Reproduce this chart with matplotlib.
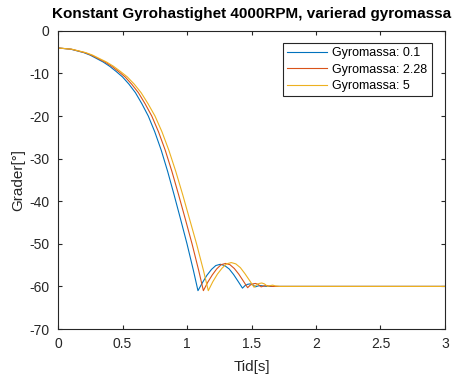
import matplotlib
matplotlib.use("Agg")
import matplotlib.pyplot as plt

plt.rcParams['font.family'] = ['Liberation Sans', 'DejaVu Sans']

title = "Konstant Gyrohastighet 4000RPM, varierad gyromassa"
xlabel = "Tid[s]"
ylabel = "Grader[°]"
labels = ["Gyromassa: 0.1", "Gyromassa: 2.28", "Gyromassa: 5"]
colors = ["#0072BD", "#D95319", "#EDB120"]

xticks = [0, 0.5, 1, 1.5, 2, 2.5, 3]
xticklabels = ["0", "0.5", "1", "1.5", "2", "2.5", "3"]
yticks = [0, -10, -20, -30, -40, -50, -60, -70]
yticklabels = ["0", "-10", "-20", "-30", "-40", "-50", "-60", "-70"]

t_blue = [0, 0.1, 0.2, 0.25, 0.3, 0.35, 0.4, 0.45, 0.5, 0.55, 0.6, 0.65, 0.7, 0.75, 0.8, 0.85, 0.9, 0.95, 1.0, 1.05, 1.085,
          1.12, 1.154, 1.19, 1.223, 1.258, 1.292, 1.327, 1.361, 1.396, 1.43,
          1.45, 1.47, 1.49, 1.51, 1.53, 1.55, 1.57, 1.59, 1.62, 3.0]
y_blue = [-4, -4.3, -5.1, -5.7, -6.5, -7.3, -8.3, -9.5, -10.8, -12.5, -14.5, -17.1, -20, -23.7, -28, -33, -38.5, -44.2, -50, -56.3, -61,
          -59.1, -57.4, -56.0, -55.1, -54.8, -55.1, -55.9, -57.2, -58.8, -60.4,
          -59.8, -59.5, -59.4, -59.6, -60.1, -59.9, -59.8, -59.9, -60, -60]

t_orange = [0, 0.104, 0.208, 0.26, 0.312, 0.364, 0.416, 0.468, 0.52, 0.571, 0.623, 0.675, 0.727, 0.779, 0.831, 0.883, 0.935, 0.987, 1.039, 1.091, 1.127,
            1.161, 1.196, 1.23, 1.264, 1.299, 1.333, 1.367, 1.401, 1.436, 1.47,
            1.49, 1.51, 1.53, 1.55, 1.575, 1.595, 1.615, 1.635, 1.665, 3.0]
y_orange = [-4, -4.3, -5.1, -5.7, -6.5, -7.3, -8.3, -9.5, -10.8, -12.5, -14.5, -17.1, -20, -23.7, -28, -33, -38.5, -44.2, -50, -56.3, -61,
            -59.0, -57.3, -55.9, -54.9, -54.6, -54.9, -55.8, -57.1, -58.7, -60.3,
            -59.7, -59.4, -59.3, -59.5, -60.1, -59.9, -59.8, -59.9, -60, -60]

t_yellow = [0, 0.107, 0.215, 0.269, 0.322, 0.376, 0.43, 0.483, 0.537, 0.591, 0.644, 0.698, 0.752, 0.806, 0.859, 0.913, 0.967, 1.02, 1.074, 1.128, 1.165,
            1.2, 1.236, 1.272, 1.307, 1.343, 1.378, 1.414, 1.449, 1.485, 1.52,
            1.54, 1.56, 1.58, 1.60, 1.625, 1.645, 1.665, 1.685, 1.72, 3.0]
y_yellow = [-4, -4.3, -5.1, -5.7, -6.5, -7.3, -8.3, -9.5, -10.8, -12.5, -14.5, -17.1, -20, -23.7, -28, -33, -38.5, -44.2, -50, -56.3, -61,
            -58.9, -57.1, -55.7, -54.7, -54.4, -54.7, -55.6, -57.0, -58.6, -60.2,
            -59.6, -59.3, -59.2, -59.4, -60.0, -59.8, -59.7, -59.9, -60, -60]

series_t = [t_blue, t_orange, t_yellow]
series_y = [y_blue, y_orange, y_yellow]

fig = plt.figure(figsize=(4.55, 3.77), dpi=100)
ax = fig.add_axes([0.1275, 0.1273, 0.8505, 0.7907])

for t, y, c, lab in zip(series_t, series_y, colors, labels):
    ax.plot(t, y, color=c, lw=0.8, label=lab)

ax.set_xlim(0, 3)
ax.set_ylim(-70, 0)
ax.set_xticks(xticks)
ax.set_xticklabels(xticklabels)
ax.set_yticks(yticks)
ax.set_yticklabels(yticklabels)
ax.tick_params(direction='in', top=True, right=True, length=3, width=0.8,
               colors='#262626', labelsize=10, labelcolor='#262626')
ax.tick_params(axis='x', pad=6)
ax.tick_params(axis='y', pad=6)
for s in ax.spines.values():
    s.set_color('#262626')
    s.set_linewidth(0.8)

ax.set_title(title, fontsize=11, fontweight='bold', pad=9)
ax.set_xlabel(xlabel, fontsize=11, color='#262626', labelpad=6)
ax.set_ylabel(ylabel, fontsize=11, color='#262626', labelpad=3)

leg = ax.legend(loc='upper right', bbox_to_anchor=(0.966, 0.96), fontsize=9,
                frameon=True, fancybox=False, handlelength=3.2, borderaxespad=0,
                labelspacing=0.35, handletextpad=0.4, borderpad=0.35)
leg.get_frame().set_edgecolor('#262626')
leg.get_frame().set_linewidth(0.8)
leg.get_frame().set_alpha(1)

fig.savefig("out.png", dpi=100)
